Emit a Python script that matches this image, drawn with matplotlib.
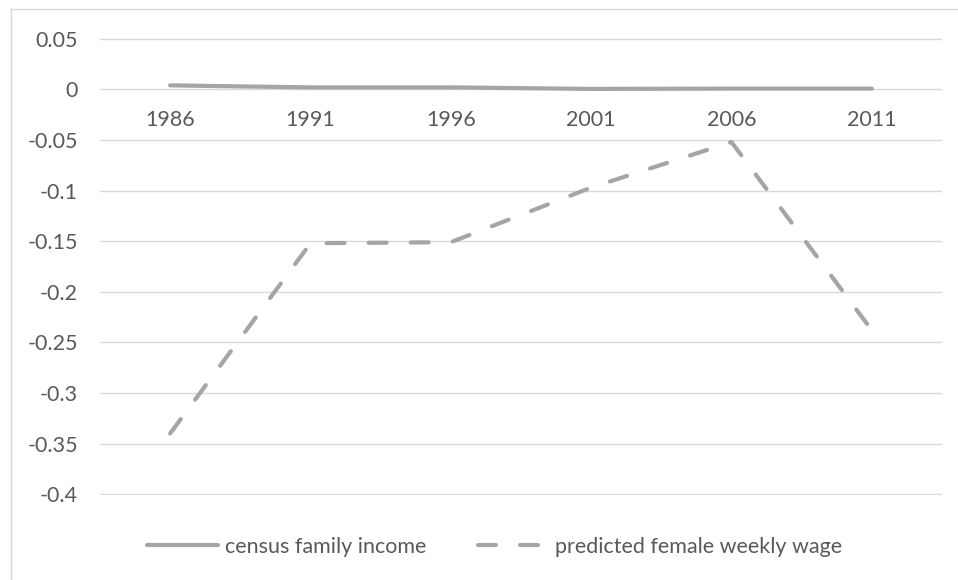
import matplotlib.pyplot as plt
from matplotlib.lines import Line2D

# census years and the two estimated effects
years = ['1986', '1991', '1996', '2001', '2006', '2011']
family_income = [0.004, 0.002, 0.002, 0.0005, 0.0008, 0.0008]
female_wage = [-0.34, -0.152, -0.151, -0.097, -0.052, -0.238]
yticks = [0.05, 0, -0.05, -0.1, -0.15, -0.2, -0.25, -0.3, -0.35, -0.4]

plt.rcParams['font.family'] = ['Lato', 'DejaVu Sans']
grey = '#A5A5A5'
text_col = '#595959'
fsize = 15.5

fig = plt.figure(figsize=(9.58, 5.8), dpi=100)
ax = fig.add_axes([100/958, 1 - 495/580, 842/958, 457/580])

x = range(len(years))
ax.plot(x, family_income, color=grey, lw=3, solid_capstyle='round',
        label='census family income')
ax.plot(x, female_wage, color=grey, lw=3, dashes=(4.3, 5.8),
        dash_capstyle='round', label='predicted female weekly wage')

ax.set_xlim(-0.5, len(years) - 0.5)
ax.set_ylim(-0.4008, 0.0508)
ax.set_yticks(yticks)
ax.set_yticklabels(['%g' % v for v in yticks])
ax.set_xticks(list(x))
ax.set_xticklabels(years)

# category axis sits on the zero line
ax.spines['bottom'].set_position(('data', 0))
for s in ax.spines.values():
    s.set_visible(False)
ax.tick_params(axis='both', length=0, labelsize=fsize, colors=text_col)
ax.tick_params(axis='y', pad=16)
ax.tick_params(axis='x', pad=15)
ax.grid(axis='y', color='#D9D9D9', lw=1)
ax.set_axisbelow(True)

handles = [
    Line2D([], [], color=grey, lw=3, solid_capstyle='round'),
    Line2D([], [], color=grey, lw=3, dashes=(4.3, 5.8), dash_capstyle='round'),
]
fig.legend(handles, ['census family income', 'predicted female weekly wage'],
           loc='center', bbox_to_anchor=(495/958, 1 - 547/580), ncol=2,
           frameon=False, fontsize=fsize, labelcolor=text_col,
           handlelength=3.3, handletextpad=0.3, columnspacing=2.4)

# chart area outline
fig.add_artist(Line2D([11/958, 11/958], [0, 1 - 9/580], color='#D9D9D9',
                      lw=1, transform=fig.transFigure))
fig.add_artist(Line2D([11/958, 1], [1 - 9/580, 1 - 9/580], color='#D9D9D9',
                      lw=1, transform=fig.transFigure))

fig.savefig('out.png', dpi=100)
